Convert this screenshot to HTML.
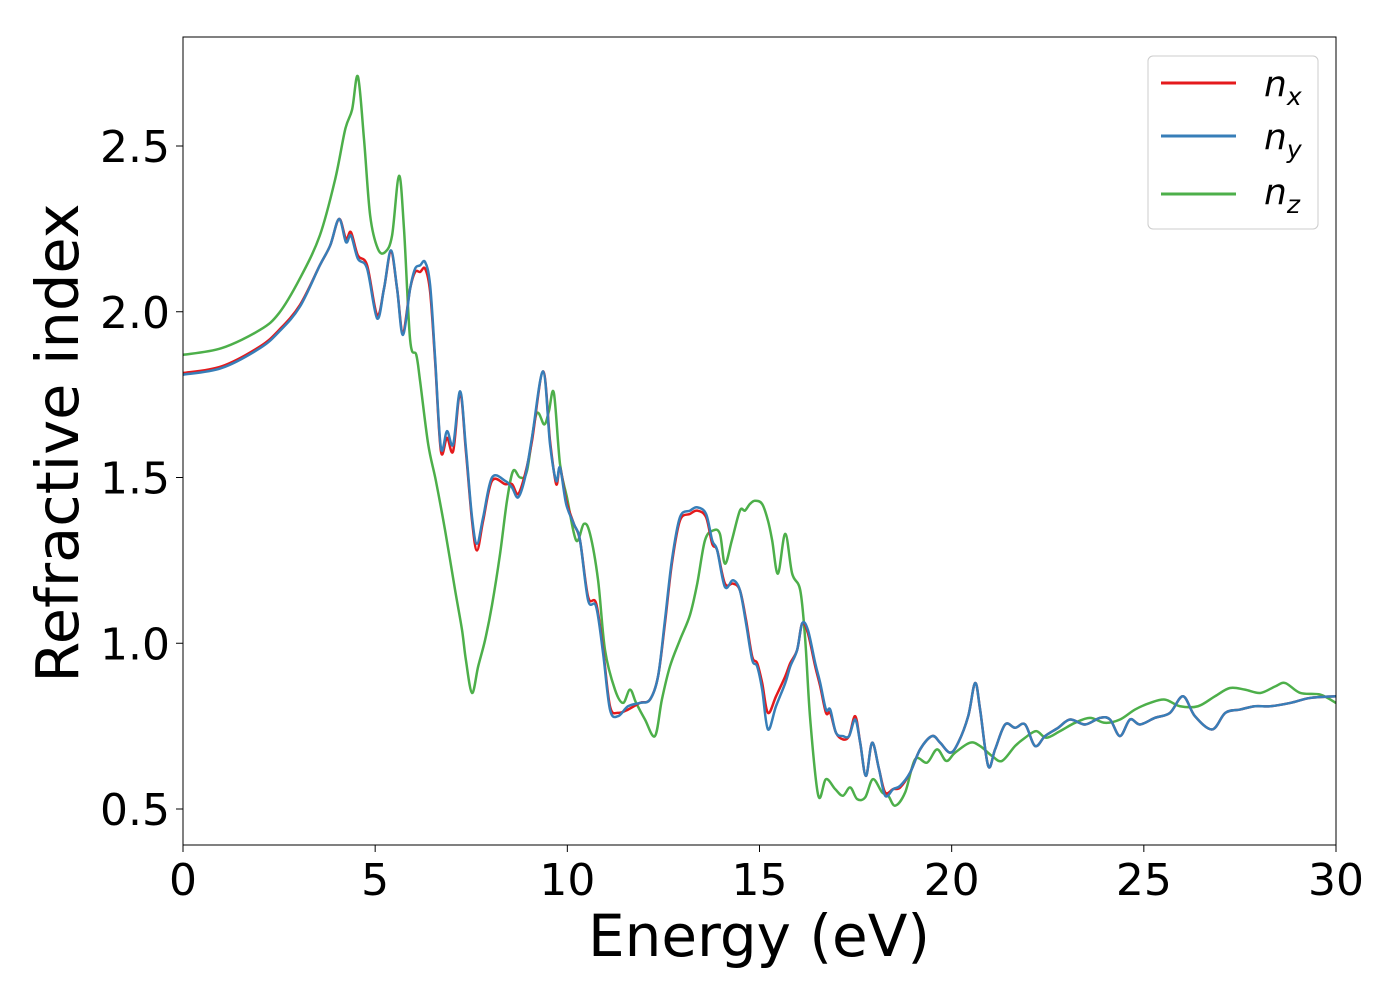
<!DOCTYPE html>
<html><head><meta charset="utf-8"><style>
body{margin:0;background:#fff;}
svg{display:block;font-family:"DejaVu Sans","Liberation Sans",sans-serif;}
</style></head><body>
<svg id="chart" width="1400" height="1000" viewBox="0 0 1400 1000">
<rect x="0" y="0" width="1400" height="1000" fill="#fff"/>
<g id="series"></g>
<rect x="183" y="37" width="1153" height="808" fill="none" stroke="#000" stroke-width="1"/>
<g id="xticks"></g>
<g id="yticks"></g>
<text x="759" y="956" font-size="58" text-anchor="middle">Energy (eV)</text>
<text transform="translate(78,443) rotate(-90)" font-size="59" text-anchor="middle">Refractive index</text>
<g>
<rect x="1148" y="56" width="170" height="173" rx="5" fill="#fff" stroke="#ccc" stroke-width="1"/>
<g><line x1="1161" y1="83" x2="1236" y2="83" stroke="#e41a1c" stroke-width="3"/><text x="1264" y="96" font-size="36" font-style="italic">n<tspan font-size="25" dy="9">x</tspan></text></g>
<g><line x1="1161" y1="136" x2="1236" y2="136" stroke="#377eb8" stroke-width="3"/><text x="1264" y="149" font-size="36" font-style="italic">n<tspan font-size="25" dy="9">y</tspan></text></g>
<g><line x1="1161" y1="194" x2="1236" y2="194" stroke="#4daf4a" stroke-width="3"/><text x="1264" y="204" font-size="36" font-style="italic">n<tspan font-size="25" dy="9">z</tspan></text></g>
</g>
</svg>
<script>
const energyX = [0,1.0,2.0,2.5,3.04,3.56,3.83,4.06,4.24,4.37,4.55,4.79,5.05,5.23,5.41,5.57,5.72,5.91,6.04,6.17,6.30,6.43,6.56,6.71,6.87,7.03,7.21,7.36,7.52,7.65,7.81,8.04,8.38,8.56,8.72,8.90,9.08,9.37,9.55,9.71,9.81,9.97,10.17,10.33,10.54,10.75,10.93,11.11,11.32,11.58,11.89,12.15,12.36,12.54,12.72,12.93,13.19,13.38,13.61,13.77,13.90,14.10,14.31,14.49,14.65,14.81,14.94,15.07,15.22,15.43,15.67,15.80,15.98,16.11,16.26,16.45,16.58,16.73,16.84,16.99,17.17,17.33,17.49,17.62,17.77,17.93,18.11,18.27,18.48,18.66,18.92,19.18,19.49,19.70,19.96,20.17,20.43,20.61,20.74,20.95,21.13,21.39,21.65,21.91,22.17,22.43,22.77,23.08,23.47,23.86,24.12,24.38,24.64,24.90,25.29,25.68,26.02,26.33,26.78,27.12,27.50,27.89,28.29,28.81,29.33,30];
const nxValues = [1.815,1.835,1.895,1.945,2.02,2.14,2.20,2.28,2.22,2.24,2.17,2.14,1.99,2.07,2.18,2.07,1.94,2.07,2.12,2.12,2.13,2.06,1.85,1.58,1.62,1.58,1.755,1.58,1.37,1.28,1.37,1.49,1.48,1.48,1.45,1.51,1.61,1.82,1.61,1.48,1.53,1.43,1.36,1.31,1.14,1.12,0.98,0.81,0.79,0.80,0.82,0.83,0.90,1.06,1.24,1.37,1.39,1.40,1.38,1.30,1.28,1.18,1.18,1.16,1.07,0.96,0.94,0.88,0.79,0.84,0.90,0.94,0.98,1.06,1.03,0.93,0.87,0.79,0.79,0.73,0.71,0.72,0.78,0.70,0.60,0.70,0.62,0.55,0.56,0.565,0.61,0.68,0.72,0.70,0.67,0.70,0.78,0.88,0.80,0.63,0.68,0.755,0.745,0.755,0.69,0.72,0.745,0.77,0.755,0.775,0.77,0.72,0.77,0.755,0.775,0.79,0.84,0.78,0.74,0.79,0.80,0.81,0.81,0.82,0.835,0.84];
const nyValues = [1.81,1.83,1.89,1.94,2.015,2.14,2.20,2.28,2.21,2.23,2.16,2.13,1.98,2.07,2.185,2.07,1.93,2.07,2.13,2.14,2.15,2.08,1.86,1.59,1.64,1.60,1.76,1.59,1.38,1.30,1.38,1.50,1.49,1.47,1.44,1.50,1.62,1.82,1.60,1.49,1.53,1.42,1.36,1.31,1.13,1.11,0.97,0.80,0.78,0.81,0.82,0.83,0.90,1.07,1.25,1.38,1.40,1.41,1.39,1.31,1.28,1.17,1.19,1.16,1.06,0.95,0.93,0.86,0.74,0.81,0.88,0.93,0.98,1.06,1.04,0.94,0.88,0.80,0.80,0.73,0.72,0.72,0.77,0.70,0.60,0.70,0.62,0.54,0.56,0.57,0.61,0.68,0.72,0.70,0.67,0.70,0.78,0.88,0.80,0.63,0.68,0.755,0.745,0.755,0.69,0.72,0.745,0.77,0.755,0.775,0.77,0.72,0.77,0.755,0.775,0.79,0.84,0.78,0.74,0.79,0.80,0.81,0.81,0.82,0.835,0.84];
const energyZ = [0,1.0,2.0,2.5,3.04,3.56,3.96,4.22,4.40,4.55,4.71,4.87,5.07,5.26,5.44,5.62,5.75,5.91,6.07,6.17,6.38,6.58,6.82,7.08,7.26,7.36,7.52,7.68,7.86,8.04,8.25,8.43,8.59,8.77,8.95,9.19,9.40,9.52,9.65,9.81,9.99,10.23,10.43,10.59,10.80,10.98,11.24,11.45,11.63,11.79,12.02,12.28,12.46,12.67,12.93,13.19,13.38,13.58,13.79,13.97,14.10,14.28,14.49,14.62,14.75,14.88,15.07,15.22,15.33,15.48,15.67,15.85,16.06,16.19,16.32,16.53,16.73,16.97,17.17,17.36,17.54,17.75,17.95,18.19,18.35,18.53,18.79,19.05,19.36,19.62,19.86,20.09,20.48,20.74,21.05,21.31,21.65,21.91,22.20,22.46,22.82,23.21,23.60,23.99,24.38,24.77,25.16,25.55,25.94,26.41,26.85,27.24,27.63,28.03,28.42,28.68,29.07,29.59,30];
const nzValues = [1.87,1.89,1.945,1.996,2.10,2.23,2.40,2.55,2.61,2.71,2.52,2.29,2.19,2.18,2.23,2.41,2.25,1.915,1.87,1.79,1.60,1.49,1.34,1.16,1.04,0.95,0.85,0.93,1.01,1.115,1.27,1.43,1.52,1.50,1.52,1.69,1.66,1.70,1.755,1.54,1.44,1.31,1.36,1.33,1.19,0.98,0.86,0.82,0.86,0.82,0.77,0.72,0.83,0.93,1.01,1.085,1.18,1.31,1.34,1.33,1.24,1.31,1.40,1.40,1.42,1.43,1.42,1.37,1.31,1.21,1.33,1.21,1.16,1.01,0.77,0.54,0.59,0.56,0.54,0.565,0.53,0.535,0.59,0.55,0.54,0.51,0.55,0.65,0.64,0.68,0.645,0.67,0.70,0.69,0.66,0.645,0.69,0.715,0.735,0.715,0.735,0.76,0.775,0.76,0.77,0.80,0.82,0.83,0.81,0.81,0.84,0.865,0.86,0.85,0.87,0.88,0.85,0.845,0.82];
const xTickLabels = ["0","5","10","15","20","25","30"];
const xTickValues = [0,5,10,15,20,25,30];
const yTickLabels = ["0.5","1.0","1.5","2.0","2.5"];
const yTickValues = [0.5,1.0,1.5,2.0,2.5];

const NS = "http://www.w3.org/2000/svg";
const X0 = 183, X1 = 1336;
function xScale(v){ return X0 + (v - 0) / 30 * (X1 - X0); }
function yScale(v){ return 809 - (v - 0.5) / 2.0 * 663; }

function smoothPath(xs, ys){
  const pts = xs.map((x,i)=>[xScale(x), yScale(ys[i])]);
  let d = "M" + pts[0][0].toFixed(2) + "," + pts[0][1].toFixed(2);
  for (let i = 0; i < pts.length - 1; i++) {
    const p0 = pts[Math.max(0,i-1)], p1 = pts[i], p2 = pts[i+1], p3 = pts[Math.min(pts.length-1,i+2)];
    const c1x = p1[0] + (p2[0]-p0[0])/6, c1y = p1[1] + (p2[1]-p0[1])/6;
    const c2x = p2[0] - (p3[0]-p1[0])/6, c2y = p2[1] - (p3[1]-p1[1])/6;
    d += " C" + c1x.toFixed(2) + "," + c1y.toFixed(2) + " " + c2x.toFixed(2) + "," + c2y.toFixed(2) + " " + p2[0].toFixed(2) + "," + p2[1].toFixed(2);
  }
  return d;
}

const series = document.getElementById("series");
function addLine(xs, ys, color, name){
  const p = document.createElementNS(NS, "path");
  p.setAttribute("d", smoothPath(xs, ys));
  p.setAttribute("fill", "none");
  p.setAttribute("stroke", color);
  p.setAttribute("stroke-width", "2.5");
  p.setAttribute("stroke-linejoin", "round");
  
  
  series.appendChild(p);
}
addLine(energyZ, nzValues, "#4daf4a", "line-nz");
addLine(energyX, nxValues, "#e41a1c", "line-nx");
addLine(energyX, nyValues, "#377eb8", "line-ny");

const xt = document.getElementById("xticks");
xTickValues.forEach((v,i)=>{
  const x = xScale(v);
  const l = document.createElementNS(NS,"line");
  l.setAttribute("x1",x); l.setAttribute("x2",x); l.setAttribute("y1",845); l.setAttribute("y2",852);
  l.setAttribute("stroke","#000");
  
  
  xt.appendChild(l);
  const t = document.createElementNS(NS,"text");
  t.setAttribute("x",x); t.setAttribute("y",895);
  t.setAttribute("font-size","44"); t.setAttribute("text-anchor","middle");
  t.textContent = xTickLabels[i];
  
  
  xt.appendChild(t);
});
const yt = document.getElementById("yticks");
yTickValues.forEach((v,i)=>{
  const y = yScale(v);
  const l = document.createElementNS(NS,"line");
  l.setAttribute("x1",176); l.setAttribute("x2",183); l.setAttribute("y1",y); l.setAttribute("y2",y);
  l.setAttribute("stroke","#000");
  
  
  yt.appendChild(l);
  const t = document.createElementNS(NS,"text");
  t.setAttribute("x",170); t.setAttribute("y",y+16);
  t.setAttribute("font-size","44"); t.setAttribute("text-anchor","end");
  t.textContent = yTickLabels[i];
  
  
  yt.appendChild(t);
});
</script>
</body></html>
